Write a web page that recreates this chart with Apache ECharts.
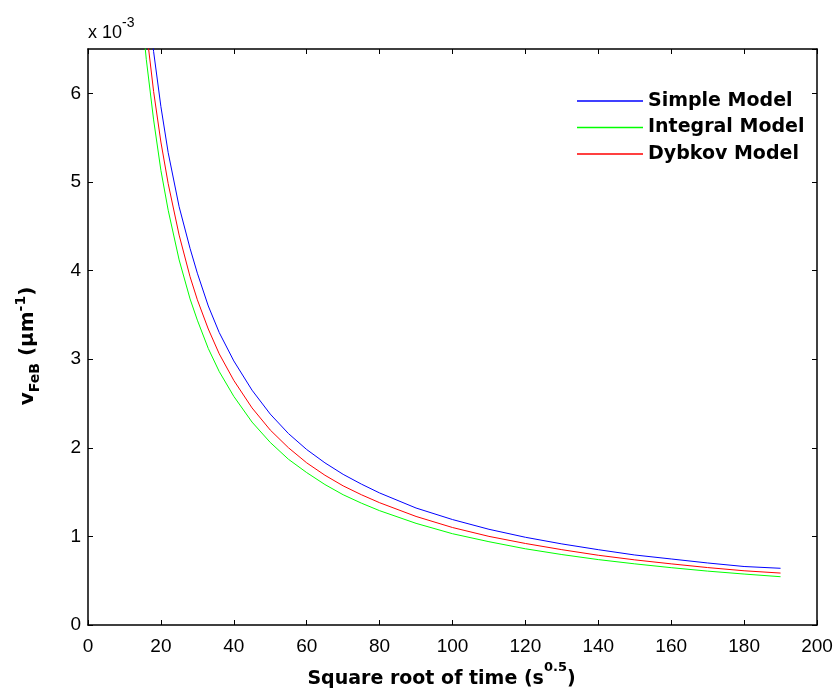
<!DOCTYPE html>
<html>
<head>
<meta charset="utf-8">
<script src="https://cdn.jsdelivr.net/npm/echarts@6/dist/echarts.min.js"></script>
<style>
html,body{margin:0;padding:0;background:#fff;}
#chart{width:838px;height:700px;}
</style>
</head>
<body>
<div id="chart"></div>
<script>
// x values: square root of time (s^0.5)
const xValues = [15,16,18,20,22,25,28,30,33,36,40,45,50,55,60,65,70,75,80,90,100,110,120,130,140,150,160,170,180,190];
// y values in units of 10^-3 µm^-1
const simpleModel = [7.75,7.25,6.47,5.85,5.33,4.72,4.25,3.97,3.60,3.30,2.98,2.65,2.38,2.16,1.98,1.83,1.70,1.59,1.49,1.32,1.19,1.08,0.99,0.915,0.85,0.79,0.745,0.70,0.66,0.64];
const integralModel = [6.80,6.38,5.70,5.13,4.68,4.12,3.68,3.44,3.12,2.86,2.58,2.29,2.06,1.87,1.72,1.585,1.47,1.375,1.29,1.147,1.03,0.94,0.86,0.795,0.738,0.69,0.647,0.608,0.575,0.545];
const dybkovModel = [7.20,6.72,6.02,5.45,4.98,4.40,3.93,3.67,3.34,3.06,2.76,2.45,2.20,2.00,1.83,1.69,1.57,1.47,1.38,1.225,1.10,1.00,0.92,0.85,0.787,0.735,0.69,0.648,0.612,0.586];
const seriesNames = ['Simple Model','Integral Model','Dybkov Model'];
const seriesColors = ['#0000ff','#00ff00','#ff0000'];
const xTicks = [0,20,40,60,80,100,120,140,160,180,200];
const yTicks = [0,1,2,3,4,5,6];

const pair = arr => xValues.map((x,i)=>[x,arr[i]]);
const font = '"Liberation Sans", Arial, sans-serif';
const bfont = '"DejaVu Sans", sans-serif';
const axisLine = {show:true, onZero:false, lineStyle:{color:'#000', width:1.5}};
const tick = {show:true, inside:true, length:5, lineStyle:{color:'#000', width:1}};

const chart = echarts.init(document.getElementById('chart'), null, {renderer:'canvas'});
chart.setOption({
  animation:false,
  backgroundColor:'#fff',
  grid:{left:88, right:21, top:49, bottom:75, containLabel:false},
  legend:{
    orient:'vertical', left:572, top:86, itemGap:6.5,
    itemWidth:66, itemHeight:1.5, icon:'rect',
    textStyle:{fontFamily:bfont, fontWeight:'bold', fontSize:19, lineHeight:20, color:'#000'},
    data:seriesNames
  },
  xAxis:[{
    type:'value', min:0, max:200, interval:20, position:'bottom',
    axisLine:axisLine, axisTick:tick, splitLine:{show:false},
    axisLabel:{fontFamily:font, fontSize:19, color:'#000', margin:12,
      formatter:v => xTicks.includes(v) ? String(v) : ''},
    name:'{b|Square root of time (s}{sup|0.5}{b|)}', nameLocation:'middle', nameGap:32,
    nameTextStyle:{padding:[0,22,0,0], rich:{
      b:{fontFamily:bfont, fontWeight:'bold', fontSize:19, color:'#000', lineHeight:28, verticalAlign:'bottom'},
      sup:{fontFamily:bfont, fontWeight:'bold', fontSize:13, color:'#000', lineHeight:28, verticalAlign:'top'}
    }}
  },{
    type:'value', min:0, max:200, interval:20, position:'top',
    axisLine:axisLine, axisTick:tick, axisLabel:{show:false}, splitLine:{show:false}
  }],
  yAxis:[{
    type:'value', min:0, max:6.5, interval:1, position:'left',
    axisLine:axisLine, axisTick:tick, splitLine:{show:false},
    axisLabel:{fontFamily:font, fontSize:19, color:'#000', margin:7, showMaxLabel:false,
      formatter:v => yTicks.includes(v) ? String(v) : ''},
    name:'{b|v}{sub|FeB}{b| (µm}{sup|-1}{b|)}', nameLocation:'middle', nameGap:46, nameRotate:90,
    nameTextStyle:{padding:[0,18,0,0], rich:{
      b:{fontFamily:bfont, fontWeight:'bold', fontSize:20, color:'#000', lineHeight:28, verticalAlign:'middle'},
      sub:{fontFamily:bfont, fontWeight:'bold', fontSize:14, color:'#000', lineHeight:28, verticalAlign:'bottom'},
      sup:{fontFamily:bfont, fontWeight:'bold', fontSize:14, color:'#000', lineHeight:28, verticalAlign:'top'}
    }}
  },{
    type:'value', min:0, max:6.5, interval:1, position:'right',
    axisLine:axisLine, axisTick:tick, axisLabel:{show:false}, splitLine:{show:false}
  }],
  graphic:[{
    type:'text', left:88, top:16,
    style:{
      text:'{a|x 10}{s|-3}',
      rich:{
        a:{fontFamily:font, fontSize:18, fill:'#000', lineHeight:26, verticalAlign:'bottom'},
        s:{fontFamily:font, fontSize:14, fill:'#000', lineHeight:26, verticalAlign:'top'}
      }
    }
  }],
  series:[
    {name:seriesNames[0], type:'line', data:pair(simpleModel), showSymbol:false, symbol:'none', clip:true,
      lineStyle:{color:seriesColors[0], width:1}, itemStyle:{color:seriesColors[0]}},
    {name:seriesNames[1], type:'line', data:pair(integralModel), showSymbol:false, symbol:'none', clip:true,
      lineStyle:{color:seriesColors[1], width:1}, itemStyle:{color:seriesColors[1]}},
    {name:seriesNames[2], type:'line', data:pair(dybkovModel), showSymbol:false, symbol:'none', clip:true,
      lineStyle:{color:seriesColors[2], width:1}, itemStyle:{color:seriesColors[2]}}
  ]
});
</script>
</body>
</html>
